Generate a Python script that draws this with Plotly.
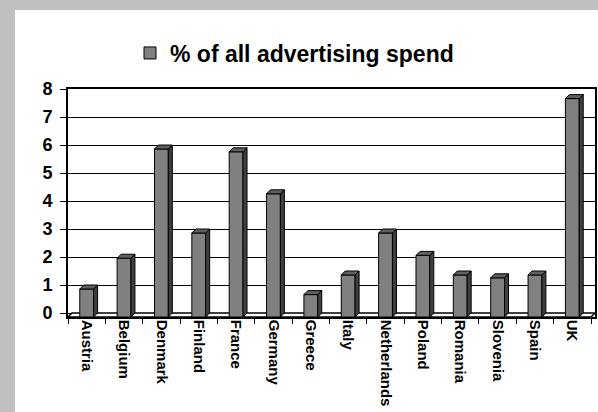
import plotly.graph_objects as go

countries = ["Austria", "Belgium", "Denmark", "Finland", "France", "Germany", "Greece",
             "Italy", "Netherlands", "Poland", "Romania", "Slovenia", "Spain", "UK"]
spend_pct = [1.0, 2.1, 6.0, 3.0, 5.9, 4.4, 0.8, 1.5, 3.0, 2.2, 1.5, 1.4, 1.5, 7.8]
y_ticks = [0, 1, 2, 3, 4, 5, 6, 7, 8]
series_name = "% of all advertising spend"

FONT = "Arial, Liberation Sans, sans-serif"
W = 0.37      # bar front width (category units)
DX = 0.107    # 3D depth, x
DY = 0.143    # 3D depth, y
n = len(countries)
idx = list(range(n))

# plot area geometry (pixels)
FIG_W, FIG_H = 598, 412
ML, MR, MT, MB = 68, 3, 89, 95
PW, PH = FIG_W - ML - MR, FIG_H - MT - MB


def px_to_paper_x(px):
    return (px - ML) / PW


def px_to_paper_y(py):
    return (FIG_H - MB - py) / PH


fig = go.Figure()

# front faces
fig.add_trace(go.Bar(
    x=idx, y=spend_pct, base=[-DY] * n, width=W, name=series_name,
    marker=dict(color="#808080", line=dict(color="black", width=1)),
    showlegend=True, hoverinfo="skip"))

# side faces
sx, sy = [], []
for i, v in zip(idx, spend_pct):
    r = i + W / 2
    sx += [r, r + DX, r + DX, r, r, None]
    sy += [-DY, 0, v, v - DY, -DY, None]
fig.add_trace(go.Scatter(x=sx, y=sy, mode="lines", fill="toself", fillcolor="#3f3f3f",
                         line=dict(color="black", width=1), showlegend=False, hoverinfo="skip"))

# top faces
tx, ty = [], []
for i, v in zip(idx, spend_pct):
    l, r = i - W / 2, i + W / 2
    tx += [l, r, r + DX, l + DX, l, None]
    ty += [v - DY, v - DY, v, v, v - DY, None]
fig.add_trace(go.Scatter(x=tx, y=ty, mode="lines", fill="toself", fillcolor="#5f5f5f",
                         line=dict(color="black", width=1), showlegend=False, hoverinfo="skip"))

x0, x1 = -0.5, n - 0.5

# white card on grey background
fig.add_shape(type="rect", xref="paper", yref="paper",
              x0=px_to_paper_x(15), x1=px_to_paper_x(FIG_W + 20),
              y0=px_to_paper_y(FIG_H + 20), y1=px_to_paper_y(10),
              layer="below", line=dict(width=0), fillcolor="white")
# floor
fig.add_shape(type="path", xref="x", yref="y", layer="between",
              path=f"M{x0},{-DY} L{x1},{-DY} L{x1 + DX},0 L{x0 + DX},0 Z",
              fillcolor="white", line=dict(color="black", width=1.5))

fig.update_layout(
    width=FIG_W, height=FIG_H,
    margin=dict(l=ML, r=MR, t=MT, b=MB, autoexpand=False),
    paper_bgcolor="#c0c0c0", plot_bgcolor="white",
    font=dict(family=FONT, color="black"),
    barmode="overlay",
    showlegend=True,
    legend=dict(xref="paper", yref="paper", x=px_to_paper_x(130), y=px_to_paper_y(53),
                xanchor="left", yanchor="middle", bgcolor="rgba(0,0,0,0)",
                font=dict(family=FONT, size=23, color="black", weight="bold")),
)

fig.update_xaxes(
    range=[x0, x1 + DX], tickvals=idx, ticktext=countries, tickangle=90,
    ticks="outside", ticklen=0, tickcolor="rgba(0,0,0,0)", ticklabelstandoff=-2,
    tickfont=dict(family=FONT, size=15, color="black", weight="bold"),
    minor=dict(tickvals=[i - 0.5 for i in range(n + 1)], ticks="outside", ticklen=5,
               tickcolor="black", tickwidth=1, showgrid=False),
    showgrid=False, zeroline=False, showline=True, linecolor="black", linewidth=1.5, mirror=True,
    automargin=False,
)
fig.update_yaxes(
    range=[-DY, 8], tickvals=y_ticks, ticks="outside", ticklen=6, tickcolor="black",
    tickfont=dict(family=FONT, size=18, color="black", weight="bold"), ticklabelstandoff=4,
    showgrid=True, gridcolor="black", gridwidth=1, zeroline=False,
    showline=True, linecolor="black", linewidth=2, mirror=True,
    automargin=False,
)

fig.write_html("out.html")
